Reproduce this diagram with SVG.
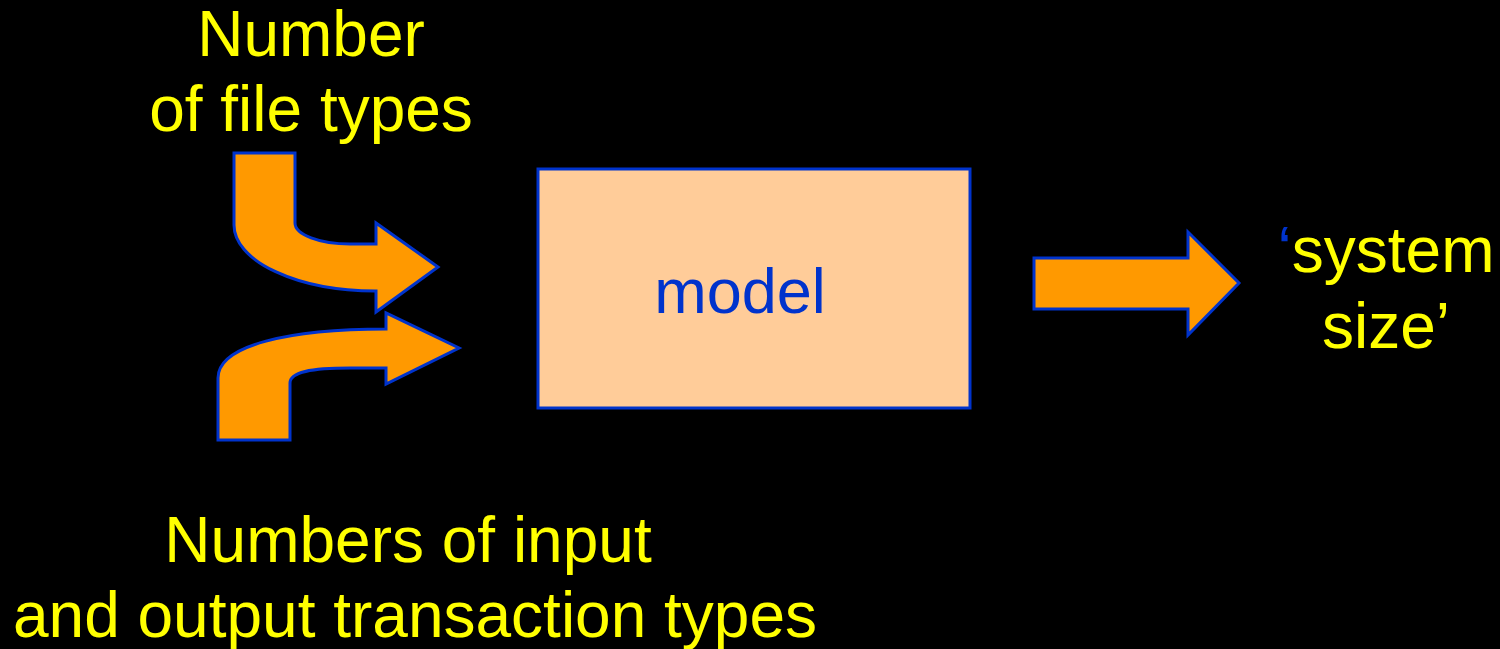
<svg xmlns="http://www.w3.org/2000/svg" width="1500" height="649" viewBox="0 0 1500 649">
  <style>
    .label { font-family: "Liberation Sans", Arial, sans-serif; font-size: 64px; fill: #FFFF00; text-anchor: middle; }
    .arrow { fill: #FF9900; stroke: #0033CC; stroke-width: 3; stroke-linejoin: miter; }
    .box { fill: #FFCC99; stroke: #0033CC; stroke-width: 3; }
    .boxtext { font-family: "Liberation Sans", Arial, sans-serif; font-size: 63px; fill: #0033CC; text-anchor: middle; }
  </style>
  <rect x="0" y="0" width="1500" height="649" fill="#000000"/>

  <!-- input: file types -->
  <g id="file-types">
    <text class="label" x="311" y="56">Number</text>
    <text class="label" x="311" y="131">of file types</text>
  </g>

  <!-- input: transaction types -->
  <g id="transaction-types">
    <text class="label" x="408" y="562">Numbers of input</text>
    <text class="label" x="415" y="637">and output transaction types</text>
  </g>

  <!-- central model box -->
  <g id="model">
    <rect class="box" x="538" y="169" width="432" height="239"/>
    <text class="boxtext" x="740" y="313">model</text>
  </g>

  <!-- output -->
  <g id="system-size">
    <text class="label" x="1386" y="272"><tspan fill="#0033CC">‘</tspan>system</text>
    <text class="label" x="1386" y="348">size’</text>
  </g>

  <!-- connectors: block arrows -->
  <g id="connectors">
    <path class="arrow" d="M 234,153 H 295 V 223 A 55 21 0 0 0 350 244 H 376 V 223 L 438,267 L 376,312 V 291 A 142 66 0 0 1 234 225 Z"/>
    <path class="arrow" d="M 218,440 V 378 C 218,345 290,329 386,329 V 313 L 459,348 L 386,384 V 368 H 350 C 310,368 290,372 290,383 V 440 Z"/>
    <path class="arrow" d="M 1034,258 H 1188 V 232 L 1239,283 L 1188,335 V 309 H 1034 Z"/>
  </g>
</svg>
